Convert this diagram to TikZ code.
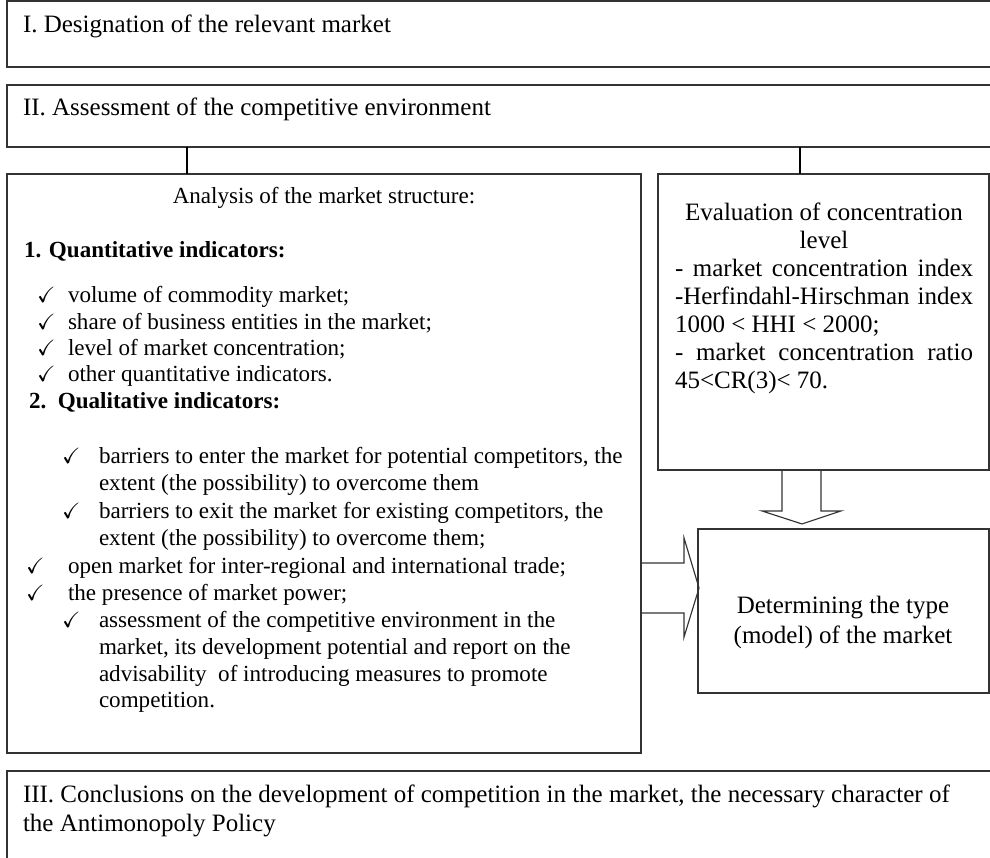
\documentclass[tikz,border=0pt]{standalone}
\usepackage{amsmath,amssymb}
\usepackage{fontspec}
\setmainfont{Liberation Serif}
\usepackage{tikz}

\begin{document}
\begin{tikzpicture}[x=0.52pt, y={(0,-0.52pt)}, line width=0.6pt,
  every node/.style={inner sep=0pt, outer sep=0pt},
  box/.style={draw=black!80, anchor=north west},
  txt/.style={anchor=base west, font=\fontsize{12}{14}\selectfont},
  big/.style={anchor=base west, font=\fontsize{13}{15}\selectfont},
  chk/.style={anchor=base west, font=\fontsize{11.5}{13}\selectfont},
  blockarr/.style={draw=black!80, line join=miter}]
\useasboundingbox (0,0) rectangle (990,857);
% boxes
\node[box, minimum width=513.8pt, minimum height=34.3pt] (desig) at (7,1) {};
\node[box, minimum width=513.8pt, minimum height=32.2pt] (assess) at (7,85) {};
\node[box, minimum width=329.7pt, minimum height=301.1pt] (struct) at (7,174) {};
\node[box, minimum width=172.1pt, minimum height=153.9pt] (conc) at (658,174) {};
\node[box, minimum width=151.3pt, minimum height=85.3pt] (mtype) at (698,529) {};
\node[box, minimum width=513.8pt, minimum height=47.3pt] (concl) at (7,771) {};
% connectors
\coordinate (j1) at (187,0);
\coordinate (j2) at (800,0);
\coordinate (da) at (802,0);
\coordinate (ra) at (0,588);
\draw (assess.south -| j1) -- (struct.north -| j1);
\draw (assess.south -| j2) -- (conc.north -| j2);
\draw[blockarr] (conc.south -| da) ++(-20,0) -- ++(0,41) -- ++(-20,0) -- ++(40,13)
  -- ++(39,-13) -- ++(-20,0) -- ++(0,-41);
\draw[blockarr] (struct.east |- ra) ++(0,-25) -- ++(43,0) -- ++(0,-25) -- ++(15,50)
  -- ++(-15,49) -- ++(0,-24) -- ++(-43,0);
% headings
\node[big] (h1) at (23,32) {I. Designation of the relevant market};
\node[big] (h2) at (23,115) {II. Assessment of the competitive environment};
\node[big] (h3a) at (23,802) {III. Conclusions on the development of competition in the market, the necessary character of};
\node[big] (h3b) at (23,831) {the Antimonopoly Policy};
% market structure
\node[txt, anchor=base] (s0) at (324,203) {Analysis of the market structure:};
\node[txt] (s1) at (24,257) {\textbf{1. Quantitative indicators:}};
\node[chk] (k1) at (37,302) {$\checkmark$};
\node[txt] (q1) at (68,302) {volume of commodity market;};
\node[chk] (k2) at (37,329) {$\checkmark$};
\node[txt] (q2) at (68,329) {share of business entities in the market;};
\node[chk] (k3) at (37,355) {$\checkmark$};
\node[txt] (q3) at (68,355) {level of market concentration;};
\node[chk] (k4) at (37,381) {$\checkmark$};
\node[txt] (q4) at (68,381) {other quantitative indicators.};
\node[txt] (s2) at (29,408) {\textbf{2.\ \ Qualitative indicators:}};
\node[chk] (k5) at (62,463) {$\checkmark$};
\node[txt] (l1a) at (99,463) {barriers to enter the market for potential competitors, the};
\node[txt] (l1b) at (99,490) {extent (the possibility) to overcome them};
\node[chk] (k6) at (62,518) {$\checkmark$};
\node[txt] (l2a) at (99,518) {barriers to exit the market for existing competitors, the};
\node[txt] (l2b) at (99,545) {extent (the possibility) to overcome them;};
\node[chk] (k7) at (26,573) {$\checkmark$};
\node[txt] (l3) at (68,573) {open market for inter-regional and international trade;};
\node[chk] (k8) at (26,600) {$\checkmark$};
\node[txt] (l4) at (68,600) {the presence of market power;};
\node[chk] (k9) at (62,627) {$\checkmark$};
\node[txt] (l5a) at (99,627) {assessment of the competitive environment in the};
\node[txt] (l5b) at (99,654) {market, its development potential and report on the};
\node[txt] (l5c) at (99,681) {advisability\ \ of introducing measures to promote};
\node[txt] (l5d) at (99,707) {competition.};
% concentration
\node[big, anchor=base] (c0) at (824,220) {Evaluation of concentration};
\node[big, anchor=base] (c1) at (824,248) {level};
\node[big] (c2) at (675,276) {\makebox[155pt][s]{- market concentration index}};
\node[big] (c3) at (675,304) {\makebox[155pt][s]{-Herfindahl-Hirschman index}};
\node[big] (c4) at (675,332) {1000 < HHI < 2000;};
\node[big] (c5) at (675,360) {\makebox[155pt][s]{- market concentration ratio}};
\node[big] (c6) at (675,388) {45<CR(3)< 70.};
% market type
\node[big, anchor=base] (m1) at (843,613) {Determining the type};
\node[big, anchor=base] (m2) at (843,643) {(model) of the market};
\end{tikzpicture}
\end{document}
